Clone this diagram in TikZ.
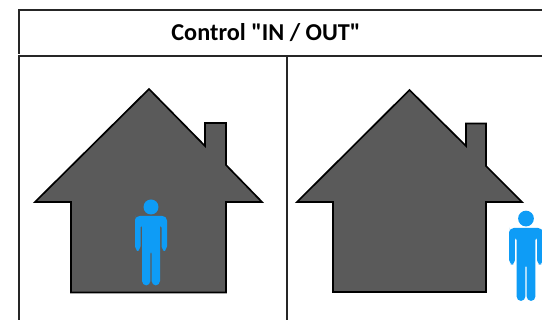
\documentclass[tikz,border=0pt]{standalone}
\usepackage{xcolor}
\usepackage{fontspec}
\newfontfamily\titlefont{Carlito}
\definecolor{HouseGray}{HTML}{5A5A5A}
\definecolor{FrameDark}{HTML}{262626}
\definecolor{PersonBlue}{HTML}{0E9CF6}

\begin{document}
\begin{tikzpicture}[
    x=0.02cm, y=-0.02cm,
    frameline/.style={draw=FrameDark, line width=1.05pt},
    house/.style={draw=black, fill=HouseGray, line width=0.95pt, line join=miter},
    title/.style={font=\titlefont\fontsize{13.8}{16}\selectfont\bfseries, text=black, inner sep=0pt},
    person/.pic={
      \fill[PersonBlue] (0,-9) circle[radius=0.15cm];
      \fill[PersonBlue, rounded corners=2.6pt] (-16,4) -- (-16,35) -- (-10.5,35) -- (-10.5,7) -- (-9,7)
        -- (-9,69.5) -- (-0.6,69.5) -- (-0.6,33) -- (0.6,33) -- (0.6,69.5) -- (9,69.5)
        -- (9,7) -- (10.5,7) -- (10.5,35) -- (16,35) -- (16,0) -- (-16,0) -- cycle;
    }
  ]
    \clip (0,0) rectangle (542,320);
    \fill[white] (0,0) rectangle (542,320);

    % frame
    \draw[frameline] (542,10) -- (19.2,10) -- (19.2,54);
    \draw[frameline] (19.2,320) -- (19.2,56) -- (542,56);
    \draw[frameline] (287.2,56) -- (287.2,320);
    \node[title] (head) at (266,32.5) {Control "IN / OUT"};

    % houses
    \draw[house] (149,89) -- (205,146) -- (205,123) -- (226,123) -- (226,165) -- (262,202) -- (226,202)
      -- (226,292.5) -- (71,292.5) -- (71,202) -- (35,202) -- cycle;
    \draw[house] (409.5,90) -- (466,146) -- (466,123.5) -- (486,123.5) -- (486,166) -- (522,202) -- (486,202)
      -- (486,292) -- (333,292) -- (333,202) -- (297,202) -- cycle;

    % people
    \pic at (151,216) {person};
    \pic[scale=1.05] at (526,228) {person};
  \end{tikzpicture}
\end{document}
